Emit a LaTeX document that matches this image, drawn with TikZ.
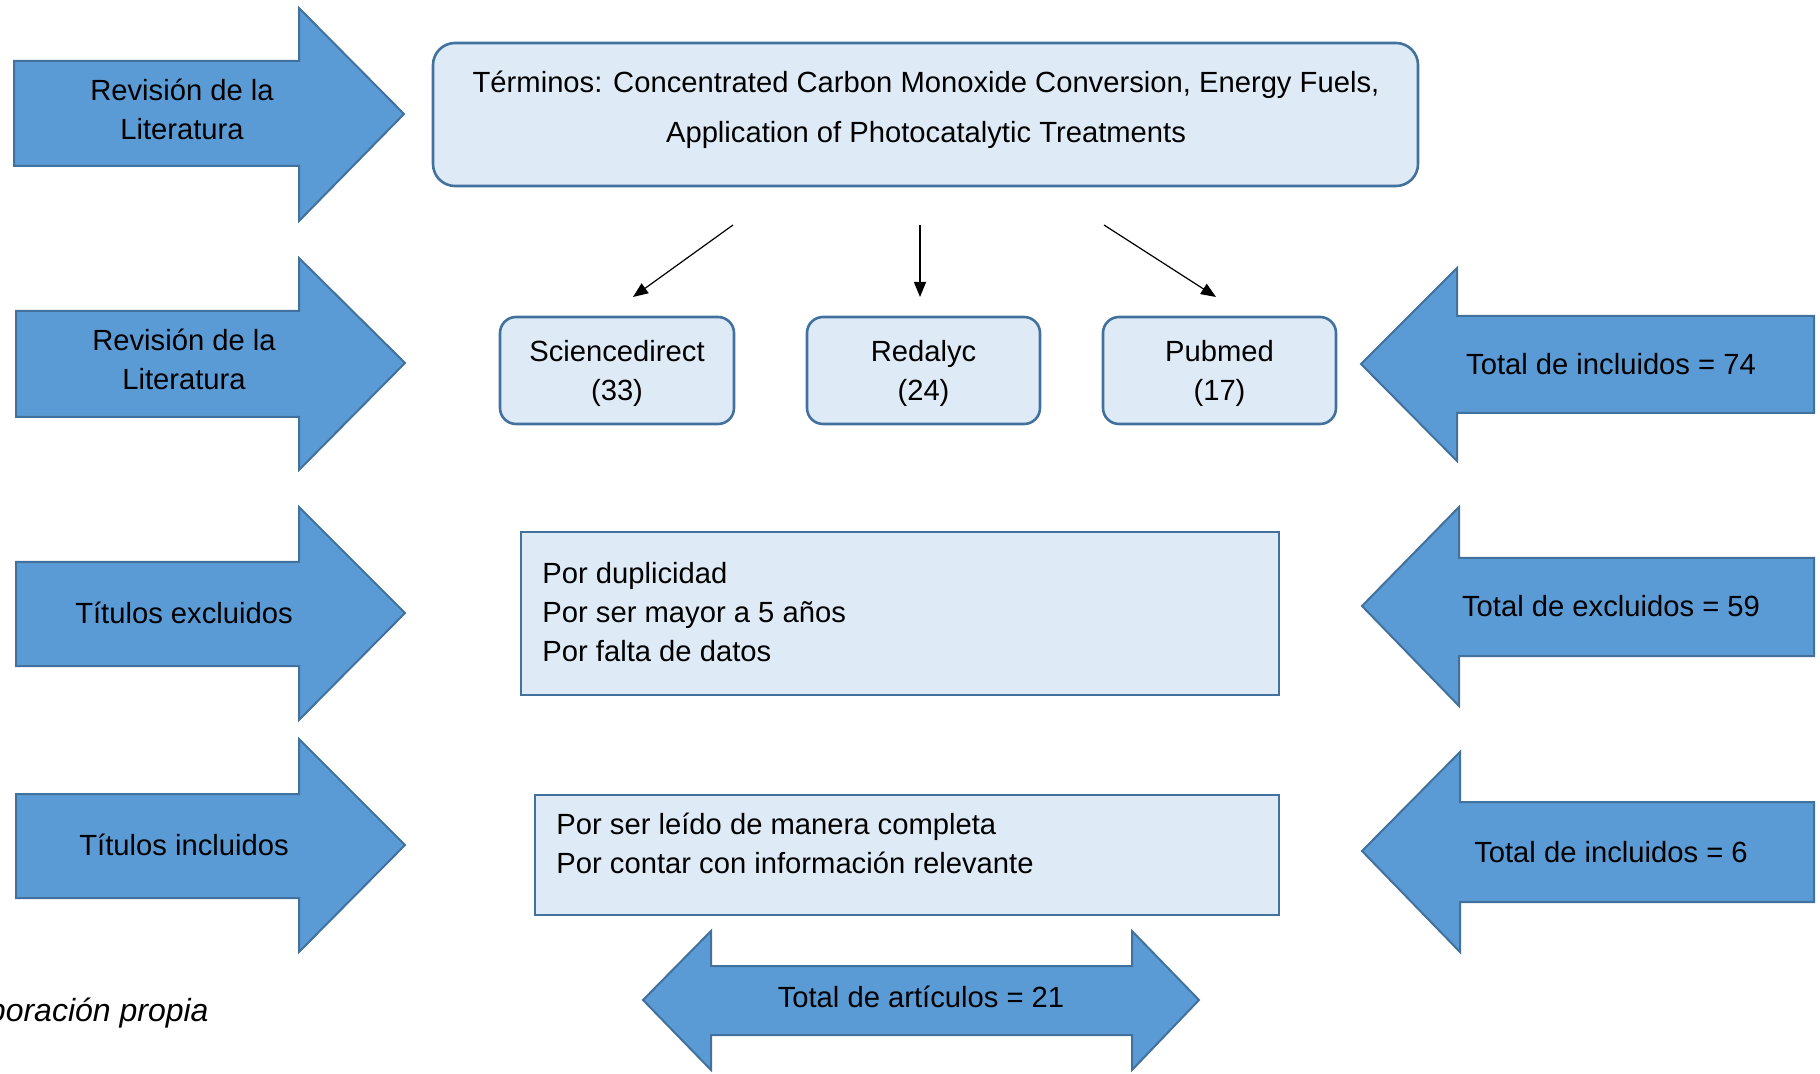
\documentclass[tikz,border=0pt]{standalone}
\usepackage{fontspec}
\setmainfont{Liberation Sans}
\usetikzlibrary{arrows.meta}
\definecolor{arrowfill}{HTML}{5B9BD5}
\definecolor{arrowline}{HTML}{41719C}
\definecolor{boxfill}{HTML}{DEEBF7}
\definecolor{boxline}{HTML}{41719C}
\tikzset{
  bigarrow/.style={fill=arrowfill, draw=arrowline, line width=1pt, line join=miter},
  roundbox/.style={fill=boxfill, draw=boxline, line width=1.3pt, rounded corners=#1, inner sep=0pt, align=center},
  flatbox/.style={fill=boxfill, draw=boxline, line width=1.3pt, inner sep=0pt},
  lbl/.style={inner sep=0pt, align=center, font=\fontsize{14.6}{19.5}\selectfont},
  llbl/.style={inner sep=0pt, align=left, anchor=west, font=\fontsize{14.6}{19.5}\selectfont},
  conn/.style={-{Triangle[length=7.5pt,width=6pt]}, line width=0.6pt, black}
}
\begin{document}
\begin{tikzpicture}[x=0.5pt,y=-0.5pt]
\useasboundingbox (0,0) rectangle (1820,1074);

% left arrows
\draw[bigarrow] (14,61) -- (299,61) -- (299,8) -- (404,114) -- (299,221) -- (299,166) -- (14,166) -- cycle;
\node[lbl] (a1) at (182,109) {Revisión de la\\Literatura};
\draw[bigarrow] (16,311) -- (299,311) -- (299,258) -- (405,363) -- (299,470) -- (299,417) -- (16,417) -- cycle;
\node[lbl] (a2) at (184,359) {Revisión de la\\Literatura};
\draw[bigarrow] (16,562) -- (299,562) -- (299,507) -- (405,613) -- (299,720) -- (299,666) -- (16,666) -- cycle;
\node[lbl] (a3) at (184,613) {Títulos excluidos};
\draw[bigarrow] (16,794) -- (299,794) -- (299,739) -- (405,845) -- (299,952) -- (299,898) -- (16,898) -- cycle;
\node[lbl] (a4) at (184,845) {Títulos incluidos};

% right arrows
\draw[bigarrow] (1814,316) -- (1457,316) -- (1457,268) -- (1361,364) -- (1457,461) -- (1457,413) -- (1814,413) -- cycle;
\node[lbl] (r1) at (1611,364) {Total de incluidos = 74};
\draw[bigarrow] (1814,558) -- (1459,558) -- (1459,507) -- (1362,606) -- (1459,706) -- (1459,656) -- (1814,656) -- cycle;
\node[lbl] (r2) at (1611,606) {Total de excluidos = 59};
\draw[bigarrow] (1814,802) -- (1460,802) -- (1460,752) -- (1362,851) -- (1460,952) -- (1460,902) -- (1814,902) -- cycle;
\node[lbl] (r3) at (1611,852) {Total de incluidos = 6};

% bottom double arrow
\draw[bigarrow] (643,1000) -- (711,931) -- (711,966) -- (1132,966) -- (1132,931) -- (1199,1000) -- (1132,1070) -- (1132,1035) -- (711,1035) -- (711,1070) -- cycle;
\node[lbl] (tot) at (921,997) {Total de artículos = 21};

% top box
\node[roundbox=11pt, minimum width=492.5pt, minimum height=71.5pt] (top) at (925.5,114.5) {};
\node[lbl, font=\fontsize{14.6}{25}\selectfont] (toptext) at (926,109.5) {Términos: Concentrated Carbon Monoxide Conversion, Energy Fuels,\\Application of Photocatalytic Treatments};

% source boxes
\node[roundbox=8pt, minimum width=117pt, minimum height=53.5pt] (s1) at (617,370.5) {};
\node[lbl] at (617,373.5) {Sciencedirect\\(33)};
\node[roundbox=8pt, minimum width=116.5pt, minimum height=53.5pt] (s2) at (923.5,370.5) {};
\node[lbl] at (923.5,373.5) {Redalyc\\(24)};
\node[roundbox=8pt, minimum width=116.5pt, minimum height=53.5pt] (s3) at (1219.5,370.5) {};
\node[lbl] at (1219.5,373.5) {Pubmed\\(17)};

% connectors
\coordinate (c1s) at (733,225);
\coordinate (c1e) at (633,297);
\coordinate (c2s) at (920,225);
\coordinate (c2e) at (920,297);
\coordinate (c3s) at (1104,225);
\coordinate (c3e) at (1216,297);
\draw[conn] (c1s) -- (c1e);
\draw[conn] (c2s) -- (c2e);
\draw[conn] (c3s) -- (c3e);

% exclusion box
\node[flatbox, minimum width=379pt, minimum height=81.5pt] (excl) at (900,613.5) {};
\node[llbl] (excltext) at (542,612) {Por duplicidad\\Por ser mayor a 5 años\\Por falta de datos};

% inclusion box
\node[flatbox, minimum width=372pt, minimum height=60pt] (incl) at (907,855) {};
\node[llbl] (incltext) at (556,843) {Por ser leído de manera completa\\Por contar con información relevante};

% source note
\node[inner sep=0pt, anchor=east, font=\fontsize{16}{19.5}\selectfont\itshape] (note) at (209,1013) {Elaboración propia};
\end{tikzpicture}
\end{document}
